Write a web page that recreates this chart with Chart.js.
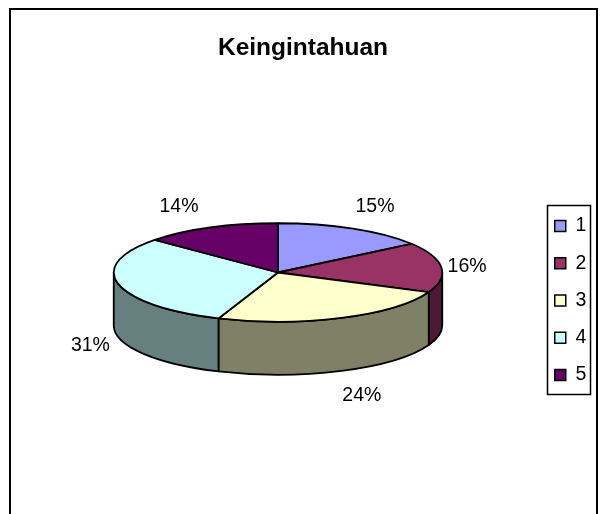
<!DOCTYPE html>
<html>
<head>
<meta charset="utf-8">
<style>html,body{margin:0;padding:0;background:#fff}canvas{display:block}</style>
<script src="https://cdn.jsdelivr.net/npm/chart.js@4"></script>
</head>
<body>
<canvas id="c" width="602" height="514"></canvas>
<script>
const categories = ['1', '2', '3', '4', '5'];
const values = [15.1, 16.4, 24.4, 30.6, 13.5];
const topColors = ['#9999FF', '#993366', '#FFFFCC', '#CCFFFF', '#660066'];
const wallColors = ['#4D4D80', '#4D1A33', '#808066', '#668080', '#330033'];
const titleText = 'Keingintahuan';

const FONT = '"Liberation Sans", Arial, sans-serif';
const tilt = 0.3, depth = 53;
const labelNudge = [[6, -2], [-9, 2], [7, 4], [6, 6], [-17, 0]];
const total = values.reduce((a, b) => a + b, 0);

const pie3d = {
  id: 'pie3d',
  beforeDraw(chart) {
    const ctx = chart.ctx;
    ctx.save();
    ctx.fillStyle = '#fff';
    ctx.fillRect(0, 0, chart.width, chart.height);
    ctx.strokeStyle = '#000';
    ctx.lineWidth = 2;
    ctx.beginPath();
    ctx.moveTo(10, 520); ctx.lineTo(10, 9); ctx.lineTo(597, 9); ctx.lineTo(597, 520);
    ctx.stroke();
    ctx.lineWidth = 1.5;
    ctx.strokeRect(547.5, 205.5, 43, 189);
    ctx.restore();
  },
  afterLayout(chart) {
    const a = chart.chartArea;
    a.left = 113; a.right = 443; a.top = 107.5; a.bottom = 437.5; a.width = 330; a.height = 330;
    const t = chart.titleBlock;
    t.left = 4; t.right = 602; t.top = 36; t.bottom = 61;
    const l = chart.legend;
    l.left = 537; l.right = 590; l.top = 198.5; l.bottom = 435;
  },
  beforeDatasetsDraw(chart) {
    const ctx = chart.ctx;
    const arcs = chart.getDatasetMeta(0).data;
    ctx.save();
    ctx.lineJoin = 'round';
    ctx.strokeStyle = '#000';
    ctx.lineWidth = 1.8;
    arcs.forEach((arc, i) => {
      const a = Math.max(arc.startAngle, 0), b = Math.min(arc.endAngle, Math.PI);
      if (b <= a) return;
      const rx = arc.outerRadius, ry = rx * tilt;
      ctx.beginPath();
      ctx.ellipse(arc.x, arc.y, rx, ry, 0, a, b);
      ctx.ellipse(arc.x, arc.y + depth, rx, ry, 0, b, a, true);
      ctx.closePath();
      ctx.fillStyle = wallColors[i];
      ctx.fill();
      ctx.stroke();
    });
    arcs.forEach((arc, i) => {
      const rx = arc.outerRadius, ry = rx * tilt;
      ctx.beginPath();
      ctx.moveTo(arc.x, arc.y);
      ctx.ellipse(arc.x, arc.y, rx, ry, 0, arc.startAngle, arc.endAngle);
      ctx.closePath();
      ctx.fillStyle = topColors[i];
      ctx.fill();
      ctx.stroke();
    });
    ctx.fillStyle = '#000';
    ctx.font = '19.5px ' + FONT;
    ctx.textAlign = 'center';
    ctx.textBaseline = 'middle';
    arcs.forEach((arc, i) => {
      const mid = (arc.startAngle + arc.endAngle) / 2;
      const rx = arc.outerRadius + 35, ry = arc.outerRadius * tilt + 22.5;
      const sy = Math.sin(mid);
      const x = arc.x + Math.cos(mid) * rx + labelNudge[i][0];
      const y = arc.y + sy * ry + (sy > 0 ? depth * Math.min(1, sy * 4) : 0) + labelNudge[i][1];
      ctx.fillText(Math.round(values[i] / total * 100) + '%', x, y);
    });
    ctx.restore();
    return false;
  }
};

new Chart(document.getElementById('c'), {
  type: 'pie',
  data: {
    labels: categories,
    datasets: [{
      data: values,
      backgroundColor: topColors,
      borderColor: '#000',
      borderWidth: 1.5,
      borderJoinStyle: 'miter'
    }]
  },
  options: {
    responsive: false,
    animation: false,
    plugins: {
      tooltip: { enabled: false },
      title: {
        display: true,
        text: titleText,
        color: '#000',
        font: { family: FONT, size: 24.5, weight: 'bold', lineHeight: 1 },
        padding: 0
      },
      legend: {
        display: true,
        position: 'right',
        align: 'start',
        labels: {
          boxWidth: 11,
          boxHeight: 11,
          padding: 17.75,
          color: '#000',
          font: { family: FONT, size: 19.5 }
        }
      }
    }
  },
  plugins: [pie3d]
});
</script>
</body>
</html>
